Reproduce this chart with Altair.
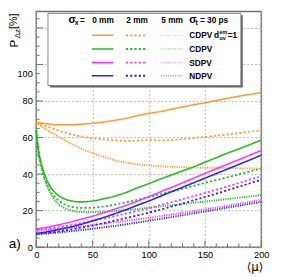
import altair as alt
import pandas as pd

MU = list(range(0, 201, 10))
MU_G = [0, 2, 4, 6, 8, 10, 15, 20, 25, 30, 40, 50, 60, 70, 80, 90, 100,
        110, 120, 130, 140, 150, 160, 170, 180, 190, 200]

METHODS = ["CDPV d=1", "CDPV", "SDPV", "NDPV"]
SIGMAS = ["0 mm", "2 mm", "5 mm"]
COLORS = ["#ff9933", "#22bb22", "#ff33ff", "#2222ff"]

orange_0 = [68.3, 67.5, 67.0, 67.0, 67.3, 67.8, 68.5, 69.5, 70.5, 72.0, 73.3,
            74.2, 75.5, 76.8, 78.0, 79.0, 80.3, 81.5, 82.6, 83.6, 84.6]
orange_2 = [68.0, 66.0, 63.8, 62.0, 60.6, 59.6, 59.0, 58.5, 58.2, 58.3, 58.7,
            58.4, 58.7, 59.2, 59.8, 60.4, 61.0, 61.7, 62.4, 63.2, 63.9]
orange_5 = [68.0, 64.0, 60.5, 57.0, 54.0, 51.5, 49.5, 47.5, 46.3, 45.3, 44.8,
            44.3, 44.0, 43.8, 43.6, 43.5, 43.4, 43.3, 43.2, 43.1, 43.0]
green_0 = [64, 53, 47, 42.5, 39, 36, 31, 28.2, 26.5, 25.5, 24.8, 25.3, 26.5, 28,
           30, 32.5, 34.8, 37.2, 39.5, 41.8, 44, 46.5, 49, 51.5, 53.8, 56.2, 58.6]
green_2 = [64, 52, 46, 41, 37, 34, 28.5, 25.5, 23.5, 22.3, 21.5, 21.6, 22.3, 23.3,
           24.6, 26, 27.4, 29, 30.5, 32, 33.6, 35.2, 36.7, 38.3, 39.9, 41.5, 43]
green_5 = [64, 51, 45, 40, 36, 33, 27, 23.5, 21.5, 20.3, 19.3, 19.2, 19.4, 19.8,
           20.4, 21, 21.6, 22.3, 23, 23.6, 24.3, 25, 25.7, 26.4, 27.1, 27.8, 28.6]
magenta_0 = [10, 11, 12.3, 13.7, 15.3, 17, 18.9, 20.9, 23, 25.3, 27.7, 30.2, 32.7,
             35.2, 37.8, 40.4, 42.9, 45.4, 47.9, 50.4, 53]
magenta_2 = [9.5, 10.2, 11, 12, 13.2, 14.5, 15.8, 17.1, 18.5, 19.9, 21.3, 23, 24.6,
             26.3, 28, 29.7, 31.5, 33.3, 35.1, 37, 38.8]
magenta_5 = [9, 9.5, 10.1, 10.7, 11.4, 12.1, 12.9, 13.7, 14.5, 15.3, 16.1, 17,
             17.9, 18.8, 19.7, 20.7, 21.7, 22.7, 23.7, 24.8, 25.9]
blue_0 = [7.5, 8.5, 9.7, 11, 12.6, 14.4, 16.3, 18.4, 20.6, 23, 25.3, 27.8, 30.3,
          32.8, 35.3, 37.8, 40.3, 42.8, 45.3, 47.8, 50.4]
blue_2 = [7.3, 7.9, 8.7, 9.6, 10.7, 11.9, 13.2, 14.6, 16, 17.4, 18.9, 20.5, 22.2,
          23.9, 25.7, 27.5, 29.3, 31.2, 33.1, 35, 37]
blue_5 = [7, 7.5, 8.1, 8.7, 9.4, 10.1, 10.9, 11.7, 12.6, 13.5, 14.5, 15.5, 16.5,
          17.5, 18.6, 19.6, 20.6, 21.7, 22.7, 23.8, 24.8]

X_MAJOR = [0, 50, 100, 150, 200]
X_MINOR = [v for v in range(0, 201, 10) if v % 50]
Y_LABELS = [0, 20, 40, 60, 80, 100, 120]
Y_MAJOR = [0, 20, 40, 60, 80, 100, 120]
Y_MINOR = [v for v in range(0, 129, 5) if v % 20]

series = [
    ("CDPV d=1", "0 mm", MU, orange_0), ("CDPV d=1", "2 mm", MU, orange_2),
    ("CDPV d=1", "5 mm", MU, orange_5),
    ("CDPV", "0 mm", MU_G, green_0), ("CDPV", "2 mm", MU_G, green_2),
    ("CDPV", "5 mm", MU_G, green_5),
    ("SDPV", "0 mm", MU, magenta_0), ("SDPV", "2 mm", MU, magenta_2),
    ("SDPV", "5 mm", MU, magenta_5),
    ("NDPV", "0 mm", MU, blue_0), ("NDPV", "2 mm", MU, blue_2),
    ("NDPV", "5 mm", MU, blue_5),
]
rows = []
for m, s, xs, ys in series:
    for xv, yv in zip(xs, ys):
        rows.append({"mu": xv, "P": yv, "method": m, "sigma": s, "key": m + s})
df = pd.DataFrame(rows)

W, H = 231, 242
FONT = "Liberation Sans, Helvetica, Arial, sans-serif"
GRAY = "#707070"
DASHES = [[1, 0], [2.2, 2.2], [1.2, 1.2]]
WIDTHS = [1.6, 1.9, 1.4]
OPAC = [1.0, 1.0, 0.45]

xscale = alt.Scale(domain=[0, 200], nice=False)
yscale = alt.Scale(domain=[0, 129], nice=False)

AX_X = alt.Axis(values=X_MAJOR, title=None, ticks=False, domain=False, grid=True,
                gridDash=[2, 2], gridColor="#b4b4b4", labelFont=FONT, labelFontSize=9.5,
                labelColor="black", labelPadding=3, labelFlush=False)
AX_Y = alt.Axis(values=Y_LABELS, title=None, ticks=False, domain=False, grid=True,
                gridDash=[2, 2], gridColor="#b4b4b4", labelFont=FONT, labelFontSize=9.5,
                labelColor="black", labelPadding=4,
                labelExpr="datum.value == 120 ? '' : datum.label",
                labelOffset={"condition": {"test": "datum.value == 100", "value": 9},
                             "value": 0})

lines = alt.Chart(df).mark_line(interpolate="monotone").encode(
    x=alt.X("mu:Q", scale=xscale, axis=AX_X),
    y=alt.Y("P:Q", scale=yscale, axis=AX_Y),
    color=alt.Color("method:N", scale=alt.Scale(domain=METHODS, range=COLORS), legend=None),
    strokeDash=alt.StrokeDash("sigma:N", scale=alt.Scale(domain=SIGMAS, range=DASHES), legend=None),
    strokeWidth=alt.StrokeWidth("sigma:N", scale=alt.Scale(domain=SIGMAS, range=WIDTHS), legend=None),
    opacity=alt.Opacity("sigma:N", scale=alt.Scale(domain=SIGMAS, range=OPAC), legend=None),
    detail="key:N",
)

def xticks(vals, length):
    return alt.Chart(pd.DataFrame({"mu": vals})).mark_rule(color=GRAY, strokeWidth=1).encode(
        x=alt.X("mu:Q", scale=xscale, axis=AX_X), y=alt.value(H), y2=alt.value(H - length))

def yticks(vals, length):
    return alt.Chart(pd.DataFrame({"P": vals})).mark_rule(color=GRAY, strokeWidth=1).encode(
        y=alt.Y("P:Q", scale=yscale, axis=AX_Y), x=alt.value(0), x2=alt.value(length))

dummy = pd.DataFrame({"a": [0]})

def txt(s, x, y, size=10, weight="normal", align="left", baseline="middle", angle=0, font=FONT):
    return alt.Chart(dummy).mark_text(
        text=s, fontSize=size, fontWeight=weight, align=align, baseline=baseline,
        angle=angle, font=font, color="black").encode(x=alt.value(x), y=alt.value(y))

def rect(x, x2, y, y2, fill, stroke=None):
    kw = dict(fill=fill)
    if stroke:
        kw.update(stroke=stroke, strokeWidth=1)
    return alt.Chart(dummy).mark_rect(**kw).encode(
        x=alt.value(x), x2=alt.value(x2), y=alt.value(y), y2=alt.value(y2))

def sample(x1, x2, y, color, si):
    return alt.Chart(dummy).mark_rule(
        color=color, strokeDash=DASHES[si], strokeWidth=WIDTHS[si], opacity=OPAC[si]).encode(
        x=alt.value(x1), x2=alt.value(x2), y=alt.value(y))

layers = [lines, xticks(X_MAJOR, 7), xticks(X_MINOR, 4), yticks(Y_MAJOR, 7), yticks(Y_MINOR, 3.5)]

# legend box
layers += [rect(14, 212, 4, 78, "#666666"), rect(12, 210, 2, 76, "white", stroke="#888888")]
BX = [(57, 79), (92, 114), (128, 150)]
ROWS_Y = [24.5, 38.5, 52.5, 66]
for mi, c in enumerate(COLORS):
    for si, (a, b) in enumerate(BX):
        layers.append(sample(a, b, ROWS_Y[mi], c, si))

B = "bold"
FS = 8.5
layers += [
    txt("σ", 33, 9, 11, B), txt("x", 39.5, 12, 7, B), txt("=", 45, 9, FS, B),
    txt(SIGMAS[0], 68.5, 9, FS, B, "center"), txt(SIGMAS[1], 103.5, 9, FS, B, "center"),
    txt(SIGMAS[2], 139.5, 9, FS, B, "center"),
    txt("σ", 157, 9, 11, B), txt("t", 163.5, 12, 7, B), txt("= 30 ps", 168, 9, FS, B),
    txt("CDPV", 157, ROWS_Y[0], FS, B), txt("d", 182.5, ROWS_Y[0], FS, B),
    txt("em", 188, ROWS_Y[0] - 3.5, 5.5, B), txt("uv", 188, ROWS_Y[0] + 3, 5.5, B),
    txt("=1", 196.5, ROWS_Y[0], FS, B),
    txt(METHODS[1], 157, ROWS_Y[1], FS, B), txt(METHODS[2], 157, ROWS_Y[2], FS, B),
    txt(METHODS[3], 157, ROWS_Y[3], FS, B),
]
# axis titles and panel label
layers += [
    txt("P", -22.5, 37, 12, angle=270),
    txt("Δz", -19, 27.5, 8, angle=270),
    txt("[%]", -22.5, 18, 11, angle=270),
    txt("⟨μ⟩", 224.5, 262, 12, align="center", font="DejaVu Sans, sans-serif"),
    txt("a)", -22, 239, 14, align="center"),
]

chart = alt.layer(*layers).properties(
    width=W, height=H,
    autosize=alt.AutoSizeParams(type="none"),
    padding={"left": 29, "top": 0, "right": 12, "bottom": 27},
).configure_view(stroke=GRAY, strokeWidth=1.5)

chart.save("out.html", embed_options={"renderer": "svg", "actions": False})
